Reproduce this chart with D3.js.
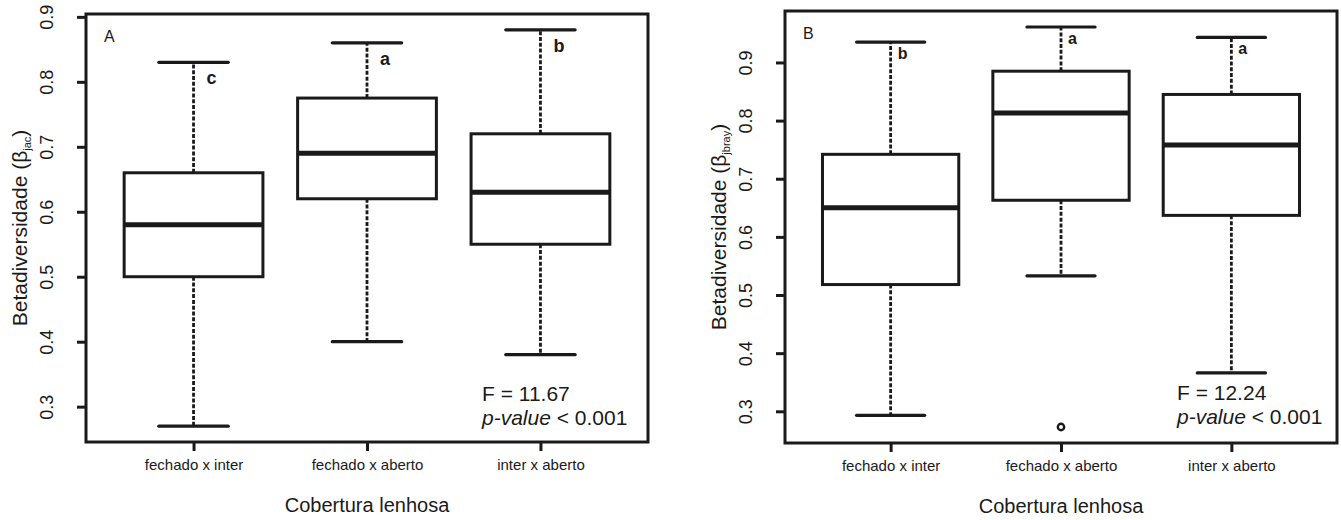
<!DOCTYPE html>
<html>
<head>
<meta charset="utf-8">
<script src="https://cdn.jsdelivr.net/npm/d3@7"></script>
<style>
	body { margin: 0; background: #fff; }
	svg { display: block; font-family: 'Liberation Sans', Arial, sans-serif; }
</style>
</head>
<body>
<div id="chart"></div>
<script>
// Betadiversity boxplots (A: jaccard, B: bray) per woody cover comparison

const categories = ['fechado x inter', 'fechado x aberto', 'inter x aberto'];
const yTicks = [0.3, 0.4, 0.5, 0.6, 0.7, 0.8, 0.9];

// Panel A - beta jac
const jacMin = [0.27, 0.40, 0.38];
const jacQ1 = [0.50, 0.62, 0.55];
const jacMedian = [0.58, 0.69, 0.63];
const jacQ3 = [0.66, 0.775, 0.72];
const jacMax = [0.83, 0.86, 0.88];
const jacOutliers = [[], [], []];
const jacGroups = ['c', 'a', 'b'];

// Panel B - beta jbray
const brayMin = [0.293, 0.533, 0.366];
const brayQ1 = [0.518, 0.663, 0.637];
const brayMedian = [0.65, 0.813, 0.758];
const brayQ3 = [0.742, 0.885, 0.845];
const brayMax = [0.935, 0.961, 0.943];
const brayOutliers = [[], [0.273], []];
const brayGroups = ['b', 'a', 'a'];

const ink = '#1a1a1a';
const width = 1341;
const height = 520;

const svg = d3.select('#chart').append('svg')
	.attr('width', width)
	.attr('height', height);

function drawPanel(p) {
	const stats = categories.map((c, i) => ({
		idx: i + 1,
		lo: p.min[i], q1: p.q1[i], med: p.median[i], q3: p.q3[i], hi: p.max[i],
		out: p.outliers[i], group: p.groups[i]
	}));

	// R style axis ranges: 4% padding around the data
	const xPad = (3.5 - 0.5) * 0.04;
	const x = d3.scaleLinear().domain([0.5 - xPad, 3.5 + xPad]).range([p.left, p.right]);
	const allLo = d3.min(stats, d => d3.min([d.lo, ...d.out]));
	const allHi = d3.max(stats, d => d3.max([d.hi, ...d.out]));
	const yPad = (allHi - allLo) * 0.04;
	const y = d3.scaleLinear().domain([allLo - yPad, allHi + yPad]).range([p.bottom, p.top]);

	const g = svg.append('g');
	const unit = x(2) - x(1);
	const boxW = unit * 0.8;
	const capW = boxW * 0.5;

	// whiskers
	const box = g.selectAll('.box')
		.data(stats)
		.enter()
		.append('g')
		.attr('class', 'box');

	box.append('line')
		.attr('x1', d => x(d.idx)).attr('x2', d => x(d.idx))
		.attr('y1', d => y(d.q3)).attr('y2', d => y(d.hi))
		.attr('stroke', ink).attr('stroke-width', 2.8)
		.attr('stroke-dasharray', '4,1.8');
	box.append('line')
		.attr('x1', d => x(d.idx)).attr('x2', d => x(d.idx))
		.attr('y1', d => y(d.q1)).attr('y2', d => y(d.lo))
		.attr('stroke', ink).attr('stroke-width', 2.8)
		.attr('stroke-dasharray', '4,1.8');

	// staples
	['hi', 'lo'].forEach(k => {
		box.append('line')
			.attr('x1', d => x(d.idx) - capW / 2).attr('x2', d => x(d.idx) + capW / 2)
			.attr('y1', d => y(d[k])).attr('y2', d => y(d[k]))
			.attr('stroke', ink).attr('stroke-width', 3.2)
			.attr('stroke-linecap', 'round');
	});

	box.append('rect')
		.attr('x', d => x(d.idx) - boxW / 2)
		.attr('width', boxW)
		.attr('y', d => y(d.q3))
		.attr('height', d => y(d.q1) - y(d.q3))
		.attr('fill', '#fff')
		.attr('stroke', ink)
		.attr('stroke-width', 3);

	box.append('line')
		.attr('x1', d => x(d.idx) - boxW / 2).attr('x2', d => x(d.idx) + boxW / 2)
		.attr('y1', d => y(d.med)).attr('y2', d => y(d.med))
		.attr('stroke', ink).attr('stroke-width', 5);

	// outliers
	box.selectAll('.out')
		.data(d => d.out.map(v => ({ idx: d.idx, v })))
		.enter()
		.append('circle')
		.attr('cx', d => x(d.idx))
		.attr('cy', d => y(d.v))
		.attr('r', 3.2)
		.attr('fill', 'none')
		.attr('stroke', ink)
		.attr('stroke-width', 2.4);

	// group letters (Tukey)
	box.append('text')
		.attr('x', d => x(d.idx) + p.letterDx)
		.attr('y', d => y(d.hi) + p.letterDy)
		.style('font-size', p.letterSize + 'px')
		.style('font-weight', '700')
		.style('fill', ink)
		.text(d => d.group);

	// frame
	g.append('rect')
		.attr('x', p.left).attr('y', p.top)
		.attr('width', p.right - p.left)
		.attr('height', p.bottom - p.top)
		.attr('fill', 'none')
		.attr('stroke', ink)
		.attr('stroke-width', 3);

	// x axis
	const xAxis = g.append('g')
		.attr('transform', `translate(0,${p.bottom})`)
		.call(d3.axisBottom(x).tickValues([1, 2, 3]).tickFormat(i => categories[i - 1]).tickSize(9).tickPadding(8));
	xAxis.select('.domain').remove();
	xAxis.selectAll('line').attr('stroke', ink).attr('stroke-width', 3);
	xAxis.selectAll('text')
		.attr('fill', ink)
		.style('font-size', '15px')
		.style('font-family', "'Liberation Sans', Arial, sans-serif");

	// y axis, labels parallel to the axis
	const yAxis = g.append('g')
		.attr('transform', `translate(${p.left},0)`)
		.call(d3.axisLeft(y).tickValues(yTicks).tickFormat(d3.format('.1f')).tickSize(9));
	yAxis.select('.domain').remove();
	yAxis.selectAll('line').attr('stroke', ink).attr('stroke-width', 3);
	yAxis.selectAll('text')
		.attr('x', 0)
		.attr('y', -33)
		.attr('dy', 0)
		.attr('transform', 'rotate(-90)')
		.attr('text-anchor', 'middle')
		.attr('fill', ink)
		.style('font-size', '18px')
		.style('font-family', "'Liberation Sans', Arial, sans-serif");

	// axis titles
	g.append('text')
		.attr('x', (p.left + p.right) / 2)
		.attr('y', p.bottom + 70)
		.attr('text-anchor', 'middle')
		.style('font-size', '20px')
		.style('fill', ink)
		.text('Cobertura lenhosa');

	const yTitle = g.append('text')
		.attr('transform', `translate(${p.left - 59},${(p.top + p.bottom) / 2}) rotate(-90)`)
		.attr('text-anchor', 'middle')
		.style('font-size', '21px')
		.style('fill', ink);
	yTitle.append('tspan').text('Betadiversidade (β');
	yTitle.append('tspan').attr('dy', 4).style('font-size', '11px').text(p.sub);
	yTitle.append('tspan').attr('dy', -4).text(')');

	// panel letter
	g.append('text')
		.attr('x', p.left + 18)
		.attr('y', p.top + 28)
		.style('font-size', '16px')
		.style('fill', ink)
		.text(p.label);

	// test result
	const stat = g.append('text')
		.attr('x', p.statX)
		.attr('y', p.statY)
		.style('font-size', '21px')
		.style('fill', ink);
	stat.append('tspan').attr('x', p.statX).text(p.fText);
	const pv = stat.append('tspan').attr('x', p.statX).attr('dy', 24);
	pv.append('tspan').style('font-style', 'italic').text('p-value');
	pv.append('tspan').text(' < 0.001');
}

drawPanel({
	left: 86, right: 648, top: 14, bottom: 442,
	min: jacMin, q1: jacQ1, median: jacMedian, q3: jacQ3, max: jacMax,
	outliers: jacOutliers, groups: jacGroups,
	sub: 'jac', label: 'A', fText: 'F = 11.67',
	statX: 482, statY: 401,
	letterDx: 13, letterDy: 22, letterSize: 18
});

drawPanel({
	left: 785, right: 1337, top: 11, bottom: 443,
	min: brayMin, q1: brayQ1, median: brayMedian, q3: brayQ3, max: brayMax,
	outliers: brayOutliers, groups: brayGroups,
	sub: 'jbray', label: 'B', fText: 'F = 12.24',
	statX: 1177, statY: 400,
	letterDx: 7, letterDy: 17, letterSize: 16
});
</script>
</body>
</html>
